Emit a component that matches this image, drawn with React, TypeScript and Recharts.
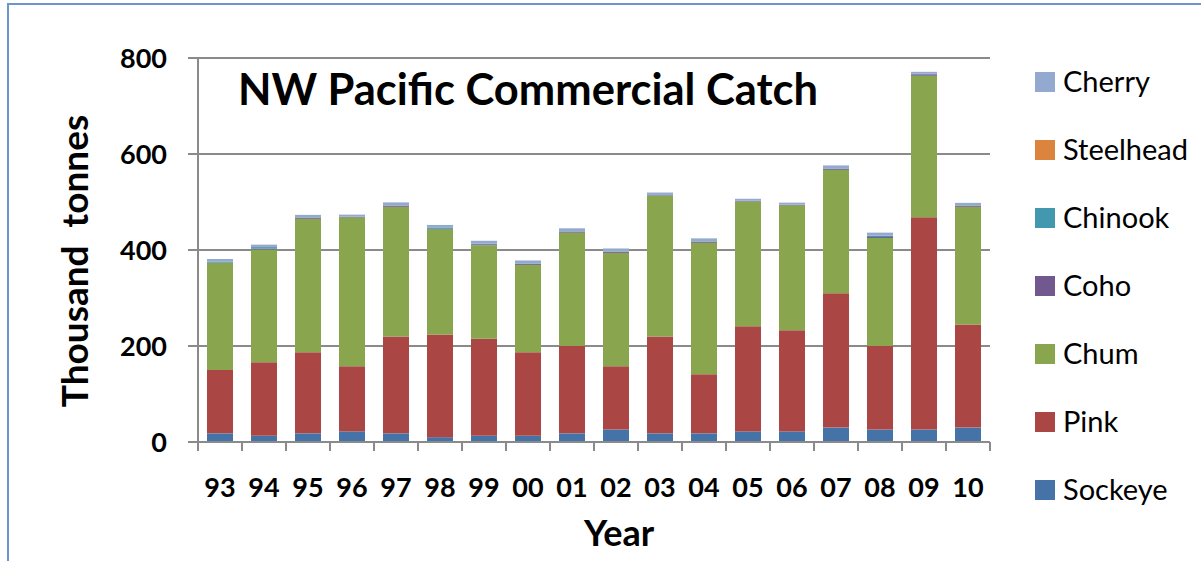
import { Bar, BarChart, CartesianGrid, XAxis, YAxis } from "recharts";

// NW Pacific commercial catch, thousand tonnes
const years = ["93", "94", "95", "96", "97", "98", "99", "00", "01", "02", "03", "04", "05", "06", "07", "08", "09", "10"];
const sockeye = [18, 13, 18, 22, 18, 10, 13, 13, 18, 26, 18, 18, 22, 22, 30, 26, 26, 30];
const pink = [132, 153, 169, 136, 202, 214, 202, 174, 182, 132, 202, 123, 219, 211, 280, 174, 442, 215];
const chum = [223, 235, 278, 310, 270, 219, 195, 182, 236, 236, 293, 274, 260, 260, 257, 225, 295, 245];
const coho = [1, 2, 2, 1, 2, 1, 2, 2, 2, 2, 1, 2, 1, 1, 2, 2, 3, 2];
const chinook = [2, 3, 1, 0.5, 1, 3, 1, 1, 1, 1, 0.5, 1, 0.5, 0.5, 1, 3, 1, 1];
const steelhead = [0.2, 0.2, 0.2, 0.2, 0.2, 0.2, 0.2, 0.2, 0.2, 0.2, 0.2, 0.2, 0.2, 0.2, 0.2, 0.2, 0.2, 0.2];
const cherry = [5, 5, 5, 4, 6, 5, 6, 6, 6, 6, 5, 6, 4, 4, 6, 6, 4, 5];
const yTicks = [0, 200, 400, 600, 800];

// bottom to top
const series = [
  { name: "Sockeye", values: sockeye, color: "#4572a7" },
  { name: "Pink", values: pink, color: "#aa4643" },
  { name: "Chum", values: chum, color: "#89a54e" },
  { name: "Coho", values: coho, color: "#71588f" },
  { name: "Chinook", values: chinook, color: "#4198af" },
  { name: "Steelhead", values: steelhead, color: "#db843d" },
  { name: "Cherry", values: cherry, color: "#93a9cf" },
];

const data = years.map((year, i) => {
  const row: Record<string, string | number> = { year };
  series.forEach((s) => (row[s.name] = s.values[i]));
  return row;
});

const FONT = "Lato, 'Open Sans', sans-serif";
const GRAY = "#8a8a8a";
const W = 1201;
const H = 561;
const margin = { top: 58, right: 211, bottom: 19, left: 68 };
const Y_W = 130;
const X_H = 100;
const band = (W - margin.left - margin.right - Y_W) / years.length;

const YearTick = (props: any) => {
  const { x = 0, y = 0, payload, index } = props;
  const half = band / 2;
  return (
    <g>
      <line x1={x - half} x2={x - half} y1={y} y2={y + 9} stroke={GRAY} strokeWidth={2} />
      {index === years.length - 1 && (
        <line x1={x + half} x2={x + half} y1={y} y2={y + 9} stroke={GRAY} strokeWidth={2} />
      )}
      <text x={x} y={y + 55} textAnchor="middle" fontFamily={FONT} fontWeight={700} fontSize={27} fill="#000">
        {payload.value}
      </text>
    </g>
  );
};

export default function App() {
  const legendItems = [...series].reverse();
  return (
    <div style={{ position: "fixed", left: 0, top: 0, width: W, height: H, background: "#fff" }}>
      <div style={{ position: "absolute", left: 0, top: 0 }}>
        <BarChart width={W} height={H} data={data} margin={margin} barSize={26}>
          <CartesianGrid vertical={false} stroke={GRAY} strokeWidth={2} />
          <XAxis
            dataKey="year"
            height={X_H}
            tickSize={0}
            tickMargin={0}
            tickLine={false}
            axisLine={{ stroke: GRAY, strokeWidth: 2 }}
            tick={<YearTick />}
            interval={0}
          />
          <YAxis
            width={Y_W}
            domain={[0, 800]}
            ticks={yTicks}
            tickSize={10}
            tickMargin={21}
            tickLine={{ stroke: GRAY, strokeWidth: 2 }}
            axisLine={{ stroke: GRAY, strokeWidth: 2 }}
            tick={{ fontFamily: FONT, fontWeight: 700, fontSize: 27, fill: "#000" }}
          />
          {series.map((s) => (
            <Bar key={s.name} dataKey={s.name} stackId="catch" fill={s.color} isAnimationActive={false} />
          ))}

          {/* title and axis titles */}
          <text x={238} y={105} fontFamily={FONT} fontWeight={700} fontSize={43.5} fill="#000">
            NW Pacific Commercial Catch
          </text>
          <text x={619} y={546} textAnchor="middle" fontFamily={FONT} fontWeight={700} fontSize={36} fill="#000">
            Year
          </text>
          <text
            x={88}
            y={261}
            transform="rotate(-90, 88, 261)"
            textAnchor="middle"
            fontFamily={FONT}
            fontWeight={700}
            fontSize={37}
            fill="#000"
            style={{ whiteSpace: "pre" }}
          >
            Thousand  tonnes
          </text>

          {/* legend */}
          {legendItems.map((s, i) => (
            <g key={s.name}>
              <rect x={1035} y={72 + i * 68} width={20} height={20} fill={s.color} />
              <text x={1063} y={92 + i * 68} fontFamily={FONT} fontSize={29} fill="#000">
                {s.name}
              </text>
            </g>
          ))}
        </BarChart>
      </div>
      <div
        style={{
          position: "absolute",
          left: 7,
          top: 3,
          width: W,
          height: H,
          borderLeft: "2px solid #6c97cc",
          borderTop: "2px solid #6c97cc",
          boxSizing: "border-box",
          pointerEvents: "none",
        }}
      />
    </div>
  );
}
